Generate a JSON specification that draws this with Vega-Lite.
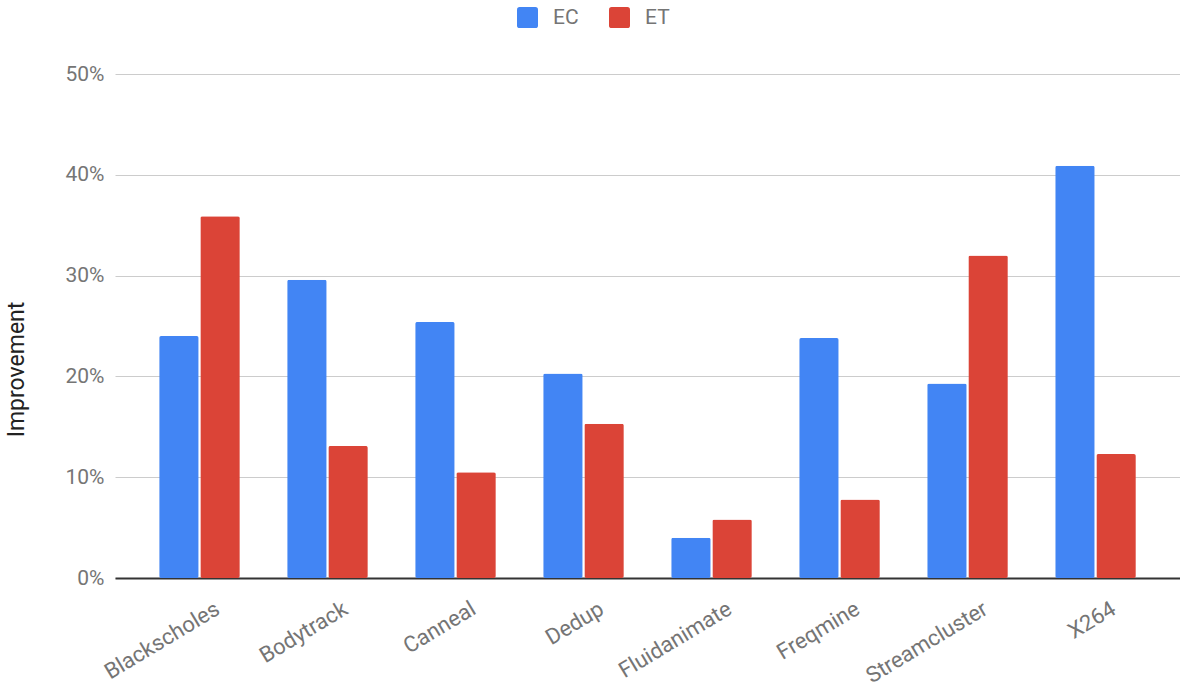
{
  "$schema": "https://vega.github.io/schema/vega-lite/v6.json",
  "width": 1065,
  "height": 504,
  "autosize": {"type": "none"},
  "padding": {"left": 115, "top": 74, "right": 0, "bottom": 108},
  "background": "white",
  "config": {"view": {"stroke": null}, "font": "Roboto"},
  "data": {
    "values": [
      {"benchmark": "Blackscholes", "metric": "EC", "improvement": 24.0},
      {"benchmark": "Blackscholes", "metric": "ET", "improvement": 35.9},
      {"benchmark": "Bodytrack", "metric": "EC", "improvement": 29.6},
      {"benchmark": "Bodytrack", "metric": "ET", "improvement": 13.1},
      {"benchmark": "Canneal", "metric": "EC", "improvement": 25.4},
      {"benchmark": "Canneal", "metric": "ET", "improvement": 10.5},
      {"benchmark": "Dedup", "metric": "EC", "improvement": 20.3},
      {"benchmark": "Dedup", "metric": "ET", "improvement": 15.3},
      {"benchmark": "Fluidanimate", "metric": "EC", "improvement": 4.0},
      {"benchmark": "Fluidanimate", "metric": "ET", "improvement": 5.8},
      {"benchmark": "Freqmine", "metric": "EC", "improvement": 23.8},
      {"benchmark": "Freqmine", "metric": "ET", "improvement": 7.8},
      {"benchmark": "Streamcluster", "metric": "EC", "improvement": 19.3},
      {"benchmark": "Streamcluster", "metric": "ET", "improvement": 32.0},
      {"benchmark": "X264", "metric": "EC", "improvement": 40.9},
      {"benchmark": "X264", "metric": "ET", "improvement": 12.3}
    ]
  },
  "mark": {"type": "bar", "cornerRadius": 2},
  "encoding": {
    "x": {
      "field": "benchmark",
      "type": "nominal",
      "sort": null,
      "title": null,
      "scale": {"paddingInner": 0.37, "paddingOuter": 0.345},
      "axis": {
        "labelAngle": -31,
        "labelAlign": "right",
        "labelBaseline": "top",
        "labelFontSize": 22,
        "labelColor": "#757575",
        "labelPadding": 20,
        "labelOffset": 13,
        "labelOverlap": false,
        "labelFlush": false,
        "labelBound": false,
        "ticks": false,
        "grid": false,
        "domainColor": "#333333",
        "domainWidth": 2
      }
    },
    "xOffset": {
      "field": "metric",
      "sort": ["EC", "ET"],
      "scale": {"paddingInner": 0.04, "paddingOuter": 0}
    },
    "y": {
      "field": "improvement",
      "type": "quantitative",
      "scale": {"domain": [0, 50], "nice": false},
      "axis": {
        "values": [0, 10, 20, 30, 40, 50],
        "labelExpr": "datum.value + '%'",
        "labelFontSize": 21,
        "labelColor": "#757575",
        "labelPadding": 11,
        "ticks": false,
        "domain": false,
        "gridColor": "#cccccc",
        "gridWidth": 1,
        "title": "Improvement",
        "titleFontSize": 23,
        "titleFontWeight": "normal",
        "titleColor": "#222222",
        "titleAngle": -90,
        "titleAlign": "center",
        "titleBaseline": "alphabetic",
        "titleX": -92,
        "titleY": 295
      }
    },
    "color": {
      "field": "metric",
      "type": "nominal",
      "scale": {"domain": ["EC", "ET"], "range": ["#4285F4", "#DB4437"]},
      "legend": {
        "title": null,
        "orient": "none",
        "direction": "horizontal",
        "legendX": 402,
        "legendY": -67,
        "padding": 0,
        "symbolType": "M-1,-0.75Q-1,-1,-0.75,-1L0.75,-1Q1,-1,1,-0.75L1,0.75Q1,1,0.75,1L-0.75,1Q-1,1,-1,0.75Z",
        "symbolSize": 441,
        "symbolStrokeWidth": 0,
        "symbolOpacity": 1,
        "labelFontSize": 21,
        "labelColor": "#757575",
        "labelOffset": 15,
        "columnPadding": 30
      }
    }
  }
}
